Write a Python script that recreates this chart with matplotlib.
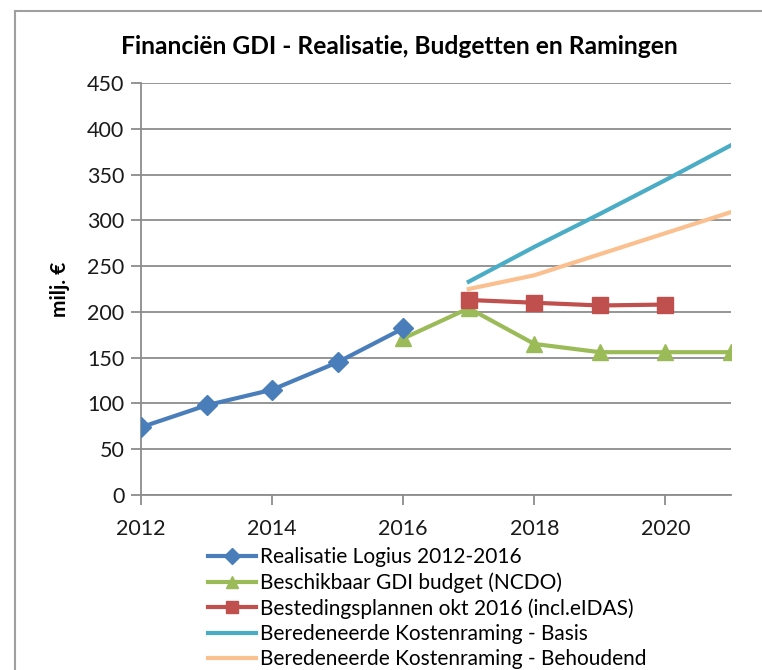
import matplotlib
matplotlib.use("Agg")
import matplotlib.pyplot as plt
from matplotlib.lines import Line2D

plt.rcParams['font.family'] = ['Lato', 'DejaVu Sans']

years_real = [2012, 2013, 2014, 2015, 2016]
realisatie = [74, 98, 115, 145, 182]

years_budget = [2016, 2017, 2018, 2019, 2020, 2021]
budget = [171, 204, 165, 156, 156, 156]

years_plan = [2017, 2018, 2019, 2020]
plannen = [213, 210, 207, 208]

years_est = [2017, 2018, 2019, 2020, 2021]
basis = [233, 271, 307, 344, 382]
behoudend = [225, 240, 263, 286, 309]

labels = ["Realisatie Logius 2012-2016",
          "Beschikbaar GDI budget (NCDO)",
          "Bestedingsplannen okt 2016 (incl.eIDAS)",
          "Beredeneerde Kostenraming - Basis",
          "Beredeneerde Kostenraming - Behoudend"]

c_blue = "#4A7EBB"
c_green = "#9BBB59"
c_red = "#C0504D"
c_cyan = "#4BACC6"
c_orange = "#FAC090"
grid_c = "#8C8C8C"

fig = plt.figure(figsize=(7.62, 6.70), dpi=100)
ax = fig.add_axes([141/762, 1-495/670, (731-141)/762, (495-83)/670])

ax.plot(years_real, realisatie, color=c_blue, lw=3, marker='D', ms=10.5, label=labels[0], zorder=5)
ax.plot(years_budget, budget, color=c_green, lw=3, marker='^', ms=12, label=labels[1], zorder=4)
ax.plot(years_plan, plannen, color=c_red, lw=3, marker='s', ms=12, label=labels[2], zorder=6)
ax.plot(years_est, basis, color=c_cyan, lw=3, label=labels[3], zorder=3)
ax.plot(years_est, behoudend, color=c_orange, lw=3, label=labels[4], zorder=3)

ax.set_xlim(2012, 2021)
ax.set_ylim(0, 450)
ax.set_yticks(range(0, 451, 50))
ax.set_xticks([2012, 2014, 2016, 2018, 2020])
ax.yaxis.grid(True, color=grid_c, lw=1.3)
ax.set_axisbelow(True)
for s in ['top', 'right']:
    ax.spines[s].set_visible(False)
for s in ['left', 'bottom']:
    ax.spines[s].set_color(grid_c)
    ax.spines[s].set_linewidth(1.3)
ax.tick_params(axis='both', colors=grid_c, labelsize=15.5, length=7, width=1.3)
ax.tick_params(axis='x', pad=10)
ax.tick_params(axis='y', pad=5)
for lab in ax.get_xticklabels() + ax.get_yticklabels():
    lab.set_color('#1a1a1a')

ax.set_ylabel("milj. €", fontsize=15, fontweight='bold', va='center')
ax.yaxis.set_label_coords((60-141)/(731-141), 0.5)

fig.text(399/762, 1-46/670, "Financiën GDI - Realisatie, Budgetten en Ramingen",
         ha='center', va='center', fontsize=17.7, fontweight='bold')

leg = fig.legend(loc='upper left', bbox_to_anchor=(208/762, 1-547/670), frameon=False,
                 fontsize=15.0, handlelength=2.3, handletextpad=0.2, labelspacing=0.25,
                 borderpad=0, borderaxespad=0)
for h in leg.legend_handles:
    h.set_markersize(8)

# outer chart frame
fig.add_artist(Line2D([15/762, 15/762], [0, 1-11/670], transform=fig.transFigure, color='#A0A0A0', lw=1.5))
fig.add_artist(Line2D([15/762, 1], [1-11/670, 1-11/670], transform=fig.transFigure, color='#A0A0A0', lw=1.5))

fig.savefig("out.png", dpi=100)
